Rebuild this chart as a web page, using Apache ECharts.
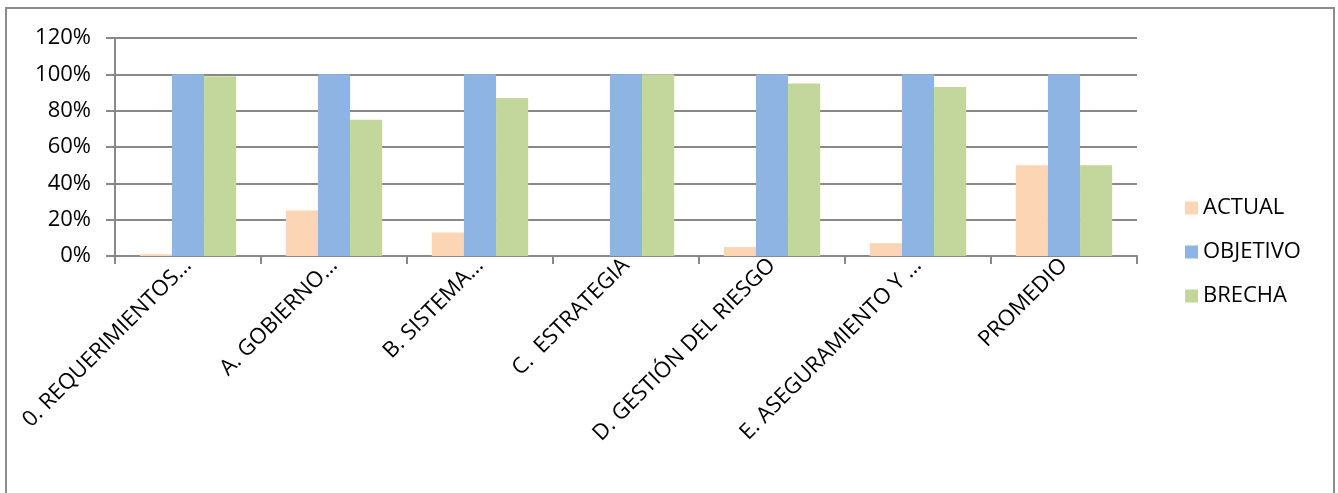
<!DOCTYPE html>
<html>
<head>
<meta charset="utf-8">
<style>
  html, body { margin: 0; padding: 0; background: #fff; }
  #chart { width: 1338px; height: 493px; }
</style>
<script src="https://cdn.jsdelivr.net/npm/echarts@6/dist/echarts.min.js"></script>
</head>
<body>
<div id="chart"></div>
<script>
// categorías y valores (%)
var categories = ['0. REQUERIMIENTOS...', 'A. GOBIERNO...', 'B. SISTEMA...', 'C.  ESTRATEGIA',
    'D. GESTIÓN DEL RIESGO', 'E. ASEGURAMIENTO Y ...', 'PROMEDIO'];
var actual = [1, 25, 13, 0, 5, 7, 50];
var objetivo = [100, 100, 100, 100, 100, 100, 100];
var brecha = [99, 75, 87, 100, 95, 93, 50];
var yTicks = [0, 20, 40, 60, 80, 100, 120];

var fontFamily = '"Open Sans", "Noto Sans", sans-serif';

var option = {
    animation: false,
    color: ['#FCD5B5', '#8EB4E3', '#C3D69B'],
    graphic: [{
        type: 'rect',
        shape: { x: 6, y: 8, width: 1328, height: 500 },
        style: { fill: 'none', stroke: '#8c8c8c', lineWidth: 2 },
        silent: true
    }],
    legend: {
        orient: 'vertical',
        left: 1180,
        top: 192,
        itemWidth: 13,
        itemHeight: 13,
        itemGap: 22,
        icon: 'rect',
        textStyle: { fontFamily: fontFamily, fontSize: 22, color: '#000' },
        data: ['ACTUAL', 'OBJETIVO', 'BRECHA']
    },
    grid: {
        left: 115,
        right: 201,
        top: 38,
        bottom: 237,
        containLabel: false
    },
    xAxis: {
        type: 'category',
        data: categories,
        axisLine: { lineStyle: { color: '#888', width: 2 } },
        axisTick: { show: true, length: 8, lineStyle: { color: '#888', width: 2 } },
        axisLabel: {
            rotate: 45,
            interval: 0,
            margin: 6,
            fontFamily: fontFamily,
            fontSize: 22,
            color: '#000'
        }
    },
    yAxis: {
        type: 'value',
        min: 0,
        max: 120,
        interval: 20,
        axisLine: { show: true, lineStyle: { color: '#888', width: 2 } },
        axisTick: { show: true, length: 9, lineStyle: { color: '#888', width: 2 } },
        splitLine: { lineStyle: { color: '#888', width: 2 } },
        axisLabel: {
            margin: 24,
            fontFamily: fontFamily,
            fontSize: 22,
            color: '#000',
            formatter: function (v) { return yTicks.indexOf(v) >= 0 ? v + '%' : ''; }
        }
    },
    series: [
        { name: 'ACTUAL', type: 'bar', data: actual, barGap: '0%', barCategoryGap: '34%' },
        { name: 'OBJETIVO', type: 'bar', data: objetivo, barGap: '0%', barCategoryGap: '34%' },
        { name: 'BRECHA', type: 'bar', data: brecha, barGap: '0%', barCategoryGap: '34%' }
    ]
};

var myChart = echarts.init(document.getElementById('chart'));
myChart.setOption(option);
</script>
</body>
</html>
